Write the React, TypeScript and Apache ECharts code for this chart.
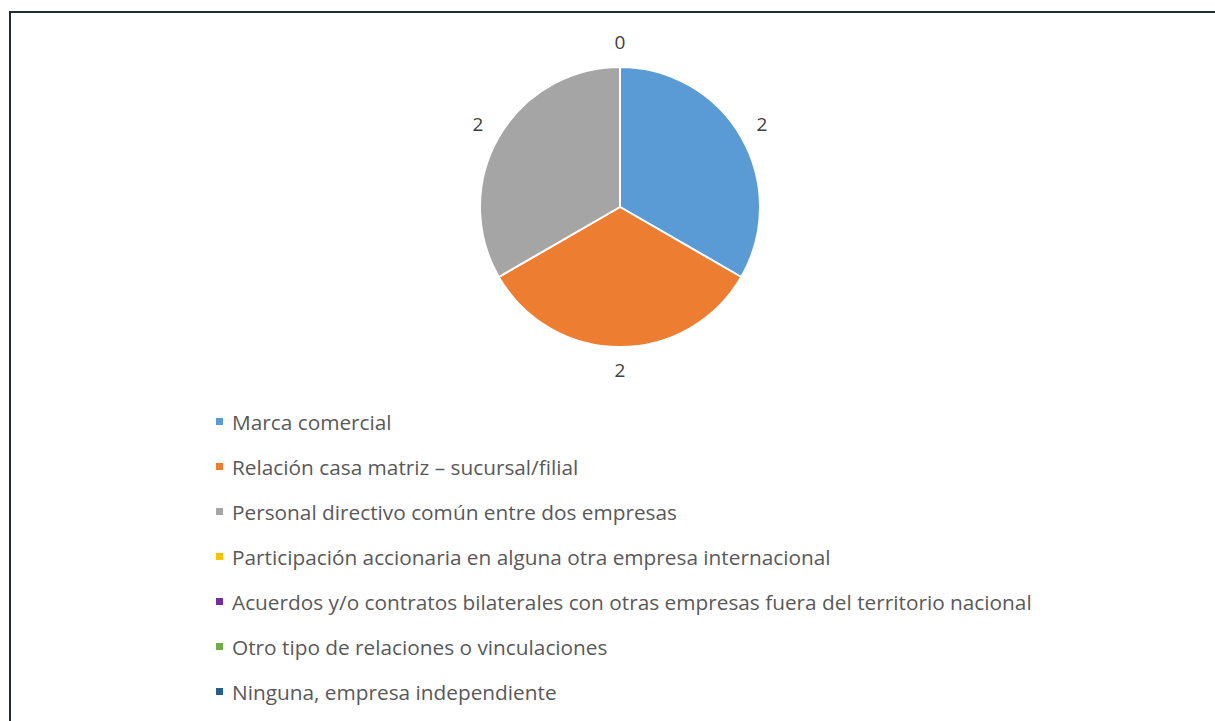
import React, { useEffect, useRef } from "react";
import * as echarts from "echarts";

const categories = [
  "Marca comercial",
  "Relación casa matriz – sucursal/filial",
  "Personal directivo común entre dos empresas",
  "Participación accionaria en alguna otra empresa internacional",
  "Acuerdos y/o contratos bilaterales con otras empresas fuera del territorio nacional",
  "Otro tipo de relaciones o vinculaciones",
  "Ninguna, empresa independiente",
];
const values = [2, 2, 2, 0, 0, 0, 0];
const colors = ["#5B9BD5", "#ED7D31", "#A5A5A5", "#FFC000", "#7030A0", "#70AD47", "#255E91"];

export default function App() {
  const ref = useRef<HTMLDivElement>(null);
  useEffect(() => {
    if (!ref.current) return;
    const chart = echarts.init(ref.current, undefined, { renderer: "svg" });
    const data = categories.map((name, i) => ({ name, value: values[i], itemStyle: { color: colors[i] } }));
    const font = "'Open Sans', Lato, sans-serif";
    chart.setOption({
      animation: false,
      backgroundColor: "#ffffff",
      legend: {
        orient: "vertical",
        left: 214,
        top: 411,
        padding: 0,
        icon: "rect",
        itemWidth: 9,
        itemHeight: 9,
        itemGap: 24,
        data: categories,
        textStyle: { fontFamily: font, fontSize: 20.8, color: "#595959", lineHeight: 20, padding: [0, 0, 0, 3] },
        selectedMode: false,
      },
      graphic: [
        {
          type: "rect",
          shape: { x: 10, y: 12, width: 1400, height: 900 },
          style: { fill: "none", stroke: "#232b36", lineWidth: 2 },
          silent: true,
        },
      ],
      series: [
        {
          type: "pie",
          center: [620, 207],
          radius: [0, 140],
          startAngle: 90,
          clockwise: true,
          avoidLabelOverlap: false,
          itemStyle: { borderColor: "#ffffff", borderWidth: 2 },
          label: { show: false },
          labelLine: { show: false },
          emphasis: { disabled: true },
          data,
        },
        {
          type: "pie",
          center: [620, 206],
          radius: [156, 166],
          startAngle: 90,
          clockwise: true,
          silent: true,
          avoidLabelOverlap: false,
          itemStyle: { color: "rgba(0,0,0,0)", borderWidth: 0 },
          label: {
            show: true,
            position: "inside",
            formatter: "{c}",
            fontFamily: font,
            fontSize: 19,
            color: "#404040",
          },
          labelLine: { show: false },
          emphasis: { disabled: true },
          data: categories.map((name, i) => ({ name, value: values[i] })),
        },
      ],
    });
    return () => chart.dispose();
  }, []);
  return <div ref={ref} style={{ position: "fixed", left: 0, top: 0, width: 1215, height: 721 }} />;
}
